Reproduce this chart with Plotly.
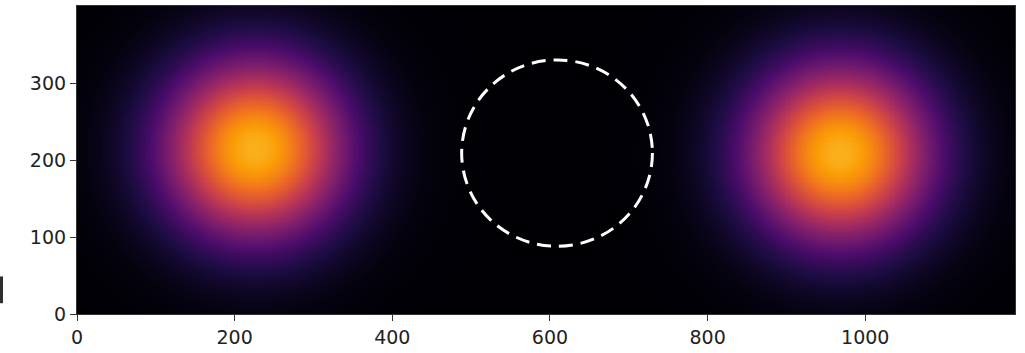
import numpy as np
import plotly.graph_objects as go

# Image extent (pixels) and sampling step
width_px = 1190
height_px = 400
step = 2

# Spots: centres, peak intensities, radial widths and profile exponents
spot_x = [226, 968]
spot_y = [214, 208]
spot_amp = [0.82, 0.82]
spot_width = [117, 117]
spot_power = [2.1, 2.1]

# Dashed reference circle
circle_cx = 609
circle_cy = 209
circle_r = 121

# Axis ticks
x_ticks = [0, 200, 400, 600, 800, 1000]
y_ticks = [0, 100, 200, 300]

xs = np.arange(step / 2, width_px, step)
ys = np.arange(step / 2, height_px, step)
X, Y = np.meshgrid(xs, ys)
Z = np.zeros_like(X)
for cx, cy, a, w, p in zip(spot_x, spot_y, spot_amp, spot_width, spot_power):
    r = np.hypot(X - cx, Y - cy)
    Z += a * np.exp(-((r / w) ** p))

fig = go.Figure(
    go.Heatmap(
        x=xs, y=ys, z=Z,
        colorscale="Inferno", zmin=0, zmax=1,
        showscale=False, hoverinfo="skip",
    )
)

fig.add_shape(
    type="circle", xref="x", yref="y",
    x0=circle_cx - circle_r, x1=circle_cx + circle_r,
    y0=circle_cy - circle_r, y1=circle_cy + circle_r,
    line=dict(color="white", width=3, dash="14px,8px"),
)

# small dark marker at the left edge
fig.add_shape(
    type="rect", xref="paper", yref="paper",
    x0=-0.0821, x1=-0.0789, y0=0.035, y1=0.122,
    line=dict(width=0), fillcolor="#2e2e2e",
)

axis_common = dict(
    showgrid=False, zeroline=False,
    showline=True, linecolor="#333", linewidth=1.2, mirror=True,
    ticks="outside", ticklen=6, tickwidth=1.3, tickcolor="#333",
    tickfont=dict(family="DejaVu Sans", size=19, color="#222"),
)

fig.update_xaxes(range=[0, width_px], tickvals=x_ticks, **axis_common)
fig.update_yaxes(range=[0, height_px], tickvals=y_ticks, **axis_common)

fig.update_layout(
    width=1025, height=353,
    margin=dict(l=77, r=10, t=5, b=37),
    paper_bgcolor="white", plot_bgcolor="black",
    showlegend=False,
)

fig.write_html("out.html")
